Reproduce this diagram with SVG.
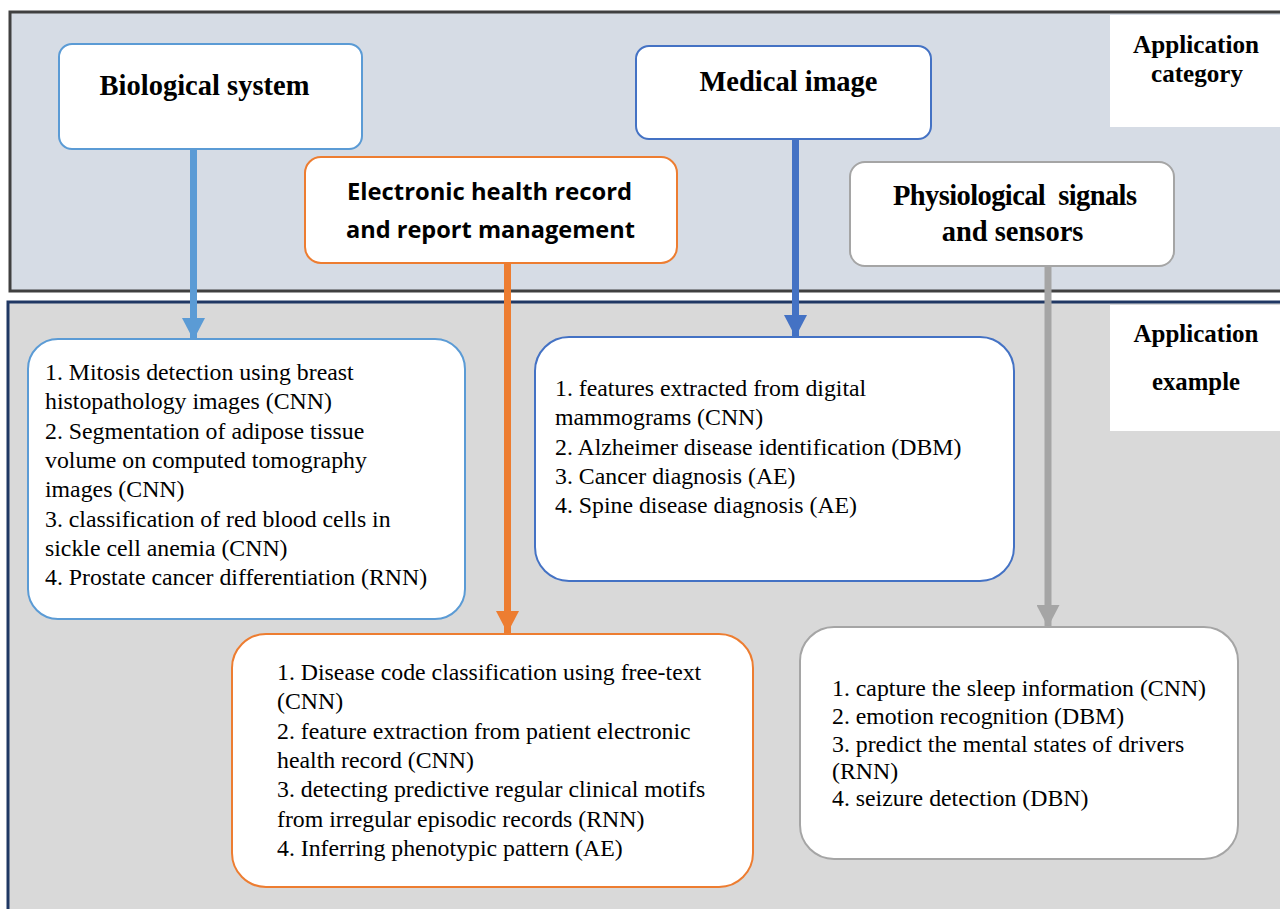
<svg xmlns="http://www.w3.org/2000/svg" width="1280" height="909" viewBox="0 0 1280 909">
<style>
.title{font-family:"Liberation Serif","Times New Roman",serif;font-weight:bold;font-size:28.5px;fill:#000;text-anchor:middle}
.lbl{font-family:"Liberation Serif","Times New Roman",serif;font-weight:bold;font-size:25px;fill:#000;text-anchor:middle}
.sans{font-family:"Open Sans","Liberation Sans",sans-serif;font-weight:bold;font-size:23px;fill:#000;text-anchor:middle}
.item{font-family:"Liberation Serif","Times New Roman",serif;font-size:23.8px;fill:#000}
.box{fill:#fff;stroke-width:2}
.shaft{stroke-width:7;fill:none}
</style>
<defs>
<marker id="hBlue" markerUnits="userSpaceOnUse" viewBox="0 0 22 23" markerWidth="22" markerHeight="23" refX="22" refY="11.5" orient="auto"><path d="M0,0 L22,11.5 L0,23 z" fill="#5b9bd5"/></marker>
<marker id="hOrange" markerUnits="userSpaceOnUse" viewBox="0 0 22 23" markerWidth="22" markerHeight="23" refX="22" refY="11.5" orient="auto"><path d="M0,0 L22,11.5 L0,23 z" fill="#ed7d31"/></marker>
<marker id="hDark" markerUnits="userSpaceOnUse" viewBox="0 0 22 23" markerWidth="22" markerHeight="23" refX="22" refY="11.5" orient="auto"><path d="M0,0 L22,11.5 L0,23 z" fill="#4472c4"/></marker>
<marker id="hGray" markerUnits="userSpaceOnUse" viewBox="0 0 22 23" markerWidth="22" markerHeight="23" refX="22" refY="11.5" orient="auto"><path d="M0,0 L22,11.5 L0,23 z" fill="#a5a5a5"/></marker>
</defs>

<g id="panels">
<rect x="10" y="12" width="1290" height="279" fill="#d6dce5" stroke="#404040" stroke-width="3"/>
<rect x="8" y="302" width="1290" height="620" fill="#d9d9d9" stroke="#203864" stroke-width="3"/>
</g>

<g id="label-category">
<rect x="1110" y="15" width="172" height="112" fill="#fff"/>
<text class="lbl" x="1196" y="53" textLength="126" lengthAdjust="spacingAndGlyphs">Application</text>
<text class="lbl" x="1197" y="82" textLength="92" lengthAdjust="spacingAndGlyphs">category</text>
</g>
<g id="label-example">
<rect x="1110" y="305" width="172" height="126" fill="#fff"/>
<text class="lbl" x="1196" y="342" textLength="125" lengthAdjust="spacingAndGlyphs">Application</text>
<text class="lbl" x="1196" y="390" textLength="88" lengthAdjust="spacingAndGlyphs">example</text>
</g>

<g id="connectors">
<line class="shaft" x1="193.5" y1="149" x2="193.5" y2="340" stroke="#5b9bd5" marker-end="url(#hBlue)"/>
<line class="shaft" x1="507.5" y1="263" x2="507.5" y2="633" stroke="#ed7d31" marker-end="url(#hOrange)"/>
<line class="shaft" x1="795.5" y1="139" x2="795.5" y2="337" stroke="#4472c4" marker-end="url(#hDark)"/>
<line class="shaft" x1="1048" y1="266" x2="1048" y2="627" stroke="#a5a5a5" marker-end="url(#hGray)"/>
</g>

<g id="biological-system">
<rect class="box" x="59" y="44" width="303" height="105" rx="13" stroke="#5b9bd5"/>
<text class="title" x="204.5" y="95">Biological system</text>
</g>
<g id="ehr">
<rect class="box" x="305" y="157" width="372" height="106" rx="16" stroke="#ed7d31"/>
<text class="sans" x="489.5" y="200" textLength="285" lengthAdjust="spacingAndGlyphs">Electronic health record</text>
<text class="sans" x="490.5" y="238" textLength="289" lengthAdjust="spacingAndGlyphs">and report management</text>
</g>
<g id="medical-image">
<rect class="box" x="636" y="46" width="295" height="93" rx="13" stroke="#4472c4"/>
<text class="title" x="788.5" y="91">Medical image</text>
</g>
<g id="physiological">
<rect class="box" x="850" y="162" width="324" height="104" rx="15" stroke="#a5a5a5"/>
<text class="title" x="1015" y="205" xml:space="preserve" textLength="244" lengthAdjust="spacing">Physiological  signals</text>
<text class="title" x="1012.5" y="241">and sensors</text>
</g>

<g id="bio-examples">
<rect class="box" x="28" y="339" width="437" height="280" rx="30" stroke="#5b9bd5"/>
<text class="item" x="45" y="380">1. Mitosis detection using breast</text>
<text class="item" x="45" y="409">histopathology images (CNN)</text>
<text class="item" x="45" y="439">2. Segmentation of adipose tissue</text>
<text class="item" x="45" y="468">volume on computed tomography</text>
<text class="item" x="45" y="497">images (CNN)</text>
<text class="item" x="45" y="527">3. classification of red blood cells in</text>
<text class="item" x="45" y="556">sickle cell anemia (CNN)</text>
<text class="item" x="45" y="585">4. Prostate cancer differentiation (RNN)</text>
</g>

<g id="medical-examples">
<rect class="box" x="535" y="337" width="479" height="244" rx="34" stroke="#4472c4"/>
<text class="item" x="555" y="396">1. features extracted from digital</text>
<text class="item" x="555" y="425">mammograms (CNN)</text>
<text class="item" x="555" y="455">2. Alzheimer disease identification (DBM)</text>
<text class="item" x="555" y="484">3. Cancer diagnosis (AE)</text>
<text class="item" x="555" y="513">4. Spine disease diagnosis (AE)</text>
</g>

<g id="ehr-examples">
<rect class="box" x="232" y="634" width="521" height="253" rx="34" stroke="#ed7d31"/>
<text class="item" x="277" y="680">1. Disease code classification using free-text</text>
<text class="item" x="277" y="709">(CNN)</text>
<text class="item" x="277" y="739">2. feature extraction from patient electronic</text>
<text class="item" x="277" y="768">health record (CNN)</text>
<text class="item" x="277" y="797">3. detecting predictive regular clinical motifs</text>
<text class="item" x="277" y="827">from irregular episodic records (RNN)</text>
<text class="item" x="277" y="856">4. Inferring phenotypic pattern (AE)</text>
</g>

<g id="physio-examples">
<rect class="box" x="800" y="627" width="438" height="232" rx="34" stroke="#a5a5a5"/>
<text class="item" x="832" y="696">1. capture the sleep information (CNN)</text>
<text class="item" x="832" y="724">2. emotion recognition (DBM)</text>
<text class="item" x="832" y="752">3. predict the mental states of drivers</text>
<text class="item" x="832" y="779">(RNN)</text>
<text class="item" x="832" y="806">4. seizure detection (DBN)</text>
</g>
</svg>
